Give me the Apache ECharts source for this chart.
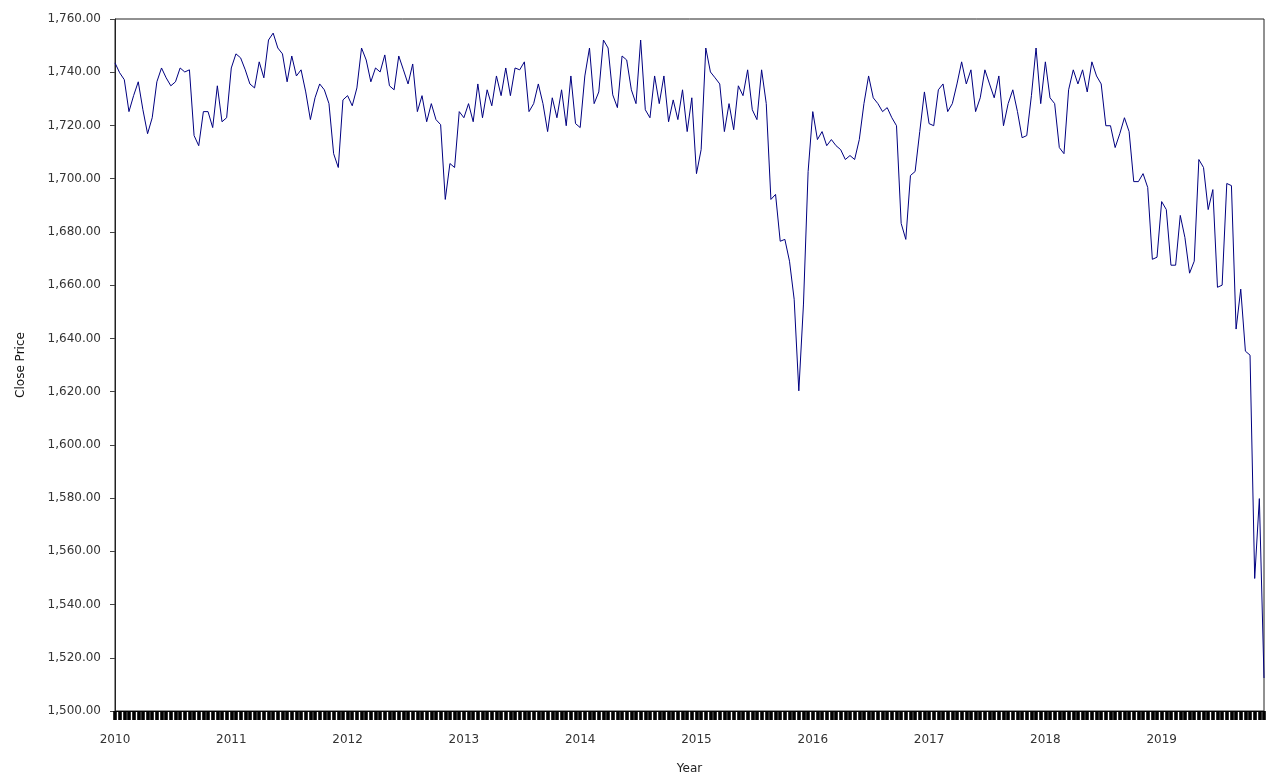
<!DOCTYPE html>
<html>
<head>
<meta charset="utf-8">
<script src="https://cdn.jsdelivr.net/npm/echarts@6/dist/echarts.min.js"></script>
<style>
html,body{margin:0;padding:0;background:#fff;}
#chart{width:1276px;height:780px;}
</style>
</head>
<body>
<div id="chart"></div>
<script>
// Year tick labels (one every 25 samples)
var yearLabels = ['2010','2011','2012','2013','2014','2015','2016','2017','2018','2019'];
var samplesPerYear = 25;

// Close price series (two samples per pixel column of the reference)
var closePrice = [
1743.5,1739.8, 1737.2,1725.2, 1731.2,1736.4, 1725.9,1716.9, 1722.9,1736.4,
1741.6,1737.9, 1734.9,1736.4, 1741.6,1740.1, 1740.9,1716.2, 1712.4,1725.2,
1725.2,1719.2, 1734.9,1721.4, 1722.9,1741.6, 1746.9,1745.4, 1740.9,1735.6,
1734.1,1743.9, 1737.9,1752.1, 1754.7,1749.1, 1746.9,1736.4, 1746.1,1738.6,
1740.9,1732.6, 1722.2,1730.4, 1735.6,1733.4, 1728.2,1709.4, 1704.2,1729.6,
1731.2,1727.4, 1734.1,1749.1, 1744.6,1736.4, 1741.6,1740.1, 1746.5,1734.9,
1733.4,1746.1, 1740.9,1735.6, 1743.1,1725.2, 1731.2,1721.4, 1728.2,1722.2,
1720.3,1692.2, 1705.7,1704.2, 1725.2,1722.9, 1728.2,1721.4, 1735.6,1722.9,
1733.4,1727.4, 1738.6,1731.2, 1741.6,1731.2, 1741.6,1740.9, 1743.9,1725.2,
1728.2,1735.6, 1728.2,1717.7, 1730.4,1722.9, 1733.4,1719.9, 1738.6,1720.7,
1719.2,1738.6, 1749.1,1728.2, 1732.6,1752.1, 1749.1,1731.5, 1726.7,1746.1,
1744.6,1733.4, 1728.2,1752.1, 1725.9,1722.9, 1738.6,1728.2, 1738.6,1721.4,
1729.6,1722.2, 1733.4,1717.7, 1730.4,1701.9, 1710.9,1749.1, 1740.1,1737.9,
1735.6,1717.7, 1728.2,1718.4, 1734.9,1731.2, 1740.9,1725.9, 1722.2,1740.9,
1728.2,1692.2, 1694.1,1676.5, 1677.2,1669.0, 1654.7,1620.3, 1652.9,1702.7,
1725.2,1714.7, 1717.7,1712.4, 1714.7,1712.4, 1710.9,1707.2, 1708.7,1707.2,
1714.7,1728.2, 1738.6,1730.4, 1728.2,1725.2, 1726.7,1722.9, 1719.9,1683.2,
1677.2,1701.2, 1702.7,1717.7, 1732.6,1720.7, 1719.9,1733.4, 1735.6,1725.2,
1728.2,1735.6, 1743.9,1735.6, 1740.9,1725.2, 1730.4,1740.9, 1735.6,1730.4,
1738.6,1719.9, 1728.2,1733.4, 1725.2,1715.4, 1716.2,1731.2, 1749.1,1728.2,
1743.9,1730.4, 1728.2,1711.7, 1709.4,1733.4, 1740.9,1735.6, 1740.9,1732.6,
1743.9,1738.6, 1735.6,1719.9, 1719.9,1711.7, 1716.9,1722.9, 1717.7,1698.9,
1698.9,1701.9, 1696.7,1669.7, 1670.5,1691.4, 1688.4,1667.5, 1667.5,1686.2,
1677.9,1664.5, 1669.0,1707.2, 1704.2,1688.4, 1695.9,1659.2, 1660.0,1698.2,
1697.4,1643.5, 1658.5,1635.2, 1633.7,1549.8, 1579.8,1512.4
];

// Y axis range / ticks
var yMin = 1500, yMax = 1760, yStep = 20;

// category per sample: year + sample number within the year
var categories = [];
for (var i = 0; i < closePrice.length; i++) {
  var y = yearLabels[Math.min(yearLabels.length - 1, Math.floor(i / samplesPerYear))];
  categories.push(y + '-' + (i % samplesPerYear + 1));
}

var chart = echarts.init(document.getElementById('chart'), null, {renderer: 'canvas'});
chart.setOption({
  animation: false,
  backgroundColor: '#ffffff',
  grid: {
    left: 115, right: 12, top: 19, bottom: 67,
    show: true, borderColor: '#222', borderWidth: 1, backgroundColor: 'transparent'
  },
  xAxis: {
    type: 'category',
    data: categories,
    boundaryGap: false,
    name: 'Year',
    nameLocation: 'middle',
    nameGap: 52,
    nameTextStyle: {color: '#222', fontSize: 12, fontFamily: 'DejaVu Sans'},
    axisLine: {lineStyle: {color: '#000', width: 1}},
    axisTick: {show: true, interval: 0, length: 9, lineStyle: {color: '#000', width: 3.6}},
    axisLabel: {
      interval: function (idx) { return idx % samplesPerYear === 0; },
      formatter: function (v) { return v.split('-')[0]; },
      margin: 23, color: '#333', fontSize: 12, fontFamily: 'DejaVu Sans'
    },
    splitLine: {show: false}
  },
  yAxis: {
    type: 'value',
    min: yMin, max: yMax, interval: yStep,
    name: 'Close Price',
    nameLocation: 'middle',
    nameGap: 88,
    nameTextStyle: {color: '#111', fontSize: 12, fontFamily: 'DejaVu Sans'},
    axisLine: {show: true, lineStyle: {color: '#222', width: 1}},
    axisTick: {show: true, length: 5, lineStyle: {color: '#444'}},
    axisLabel: {
      formatter: function (v) { return v.toLocaleString('en-US', {minimumFractionDigits: 2, maximumFractionDigits: 2}); },
      margin: 14, color: '#333', fontSize: 12, fontFamily: 'DejaVu Sans'
    },
    splitLine: {show: false}
  },
  series: [{
    type: 'line',
    data: closePrice,
    showSymbol: false,
    symbol: 'none',
    lineStyle: {color: '#000080', width: 1},
    itemStyle: {color: '#000080'}
  }]
});
</script>
</body>
</html>
